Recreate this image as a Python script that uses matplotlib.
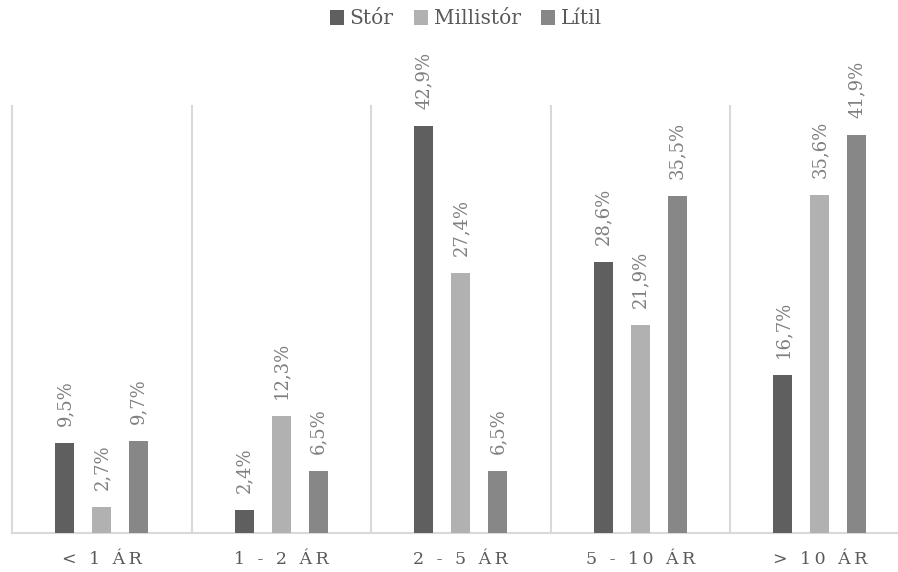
import matplotlib
matplotlib.use("Agg")
import matplotlib.pyplot as plt
import numpy as np

categories = ["< 1 ÁR", "1 - 2 ÁR", "2 - 5 ÁR", "5 - 10 ÁR", "> 10 ÁR"]
series_names = ["Stór", "Millistór", "Lítil"]
stor = [9.5, 2.4, 42.9, 28.6, 16.7]
millistor = [2.7, 12.3, 27.4, 21.9, 35.6]
litil = [9.7, 6.5, 6.5, 35.5, 41.9]
colors = ["#5f5f5f", "#b1b1b1", "#878787"]

plt.rcParams['font.family'] = ['DejaVu Serif']

W, H = 898, 572
fig = plt.figure(figsize=(W / 100, H / 100), dpi=100)
ax = fig.add_axes([12 / W, 39 / H, 897.5 / W, 427 / H])

x = np.arange(len(categories))
bw = 0.106
step = 0.206
allvals = [stor, millistor, litil]
for i, (vals, name, c) in enumerate(zip(allvals, series_names, colors)):
    pos = x + (i - 1) * step
    ax.bar(pos, vals, width=bw, color=c, label=name, zorder=3)
    for xb, v in zip(pos, vals):
        ax.annotate(f"{v:.1f}%".replace(".", ","), (xb, v), xytext=(0, 17),
                    textcoords="offset pixels", rotation=90, ha="center",
                    va="bottom", fontsize=13, color="#7f7f7f",
                    annotation_clip=False)

ax.set_xlim(-0.5, len(categories) - 0.5)
ax.set_ylim(0, 45)

# separators
for s in np.arange(-0.5, len(categories), 1.0):
    ax.axvline(s, color="#d9d9d9", lw=1.5, zorder=1, clip_on=False)

for sp in ["top", "right", "left"]:
    ax.spines[sp].set_visible(False)
ax.spines["bottom"].set_color("#d9d9d9")
ax.spines["bottom"].set_linewidth(1.5)
ax.set_yticks([])
ax.set_xticks(x)
ax.set_xticklabels(["\u2009".join(c) for c in categories], fontsize=12.5,
                   color="#595959")
ax.tick_params(axis="x", length=0, pad=13)

fig.legend(loc="center", bbox_to_anchor=(466 / W, 1 - 19 / H), ncol=3,
           frameon=False, fontsize=14.5, handlelength=0.7, handleheight=0.7,
           handletextpad=0.3, columnspacing=1.0, labelcolor="#595959")

fig.savefig("out.png", dpi=100)
